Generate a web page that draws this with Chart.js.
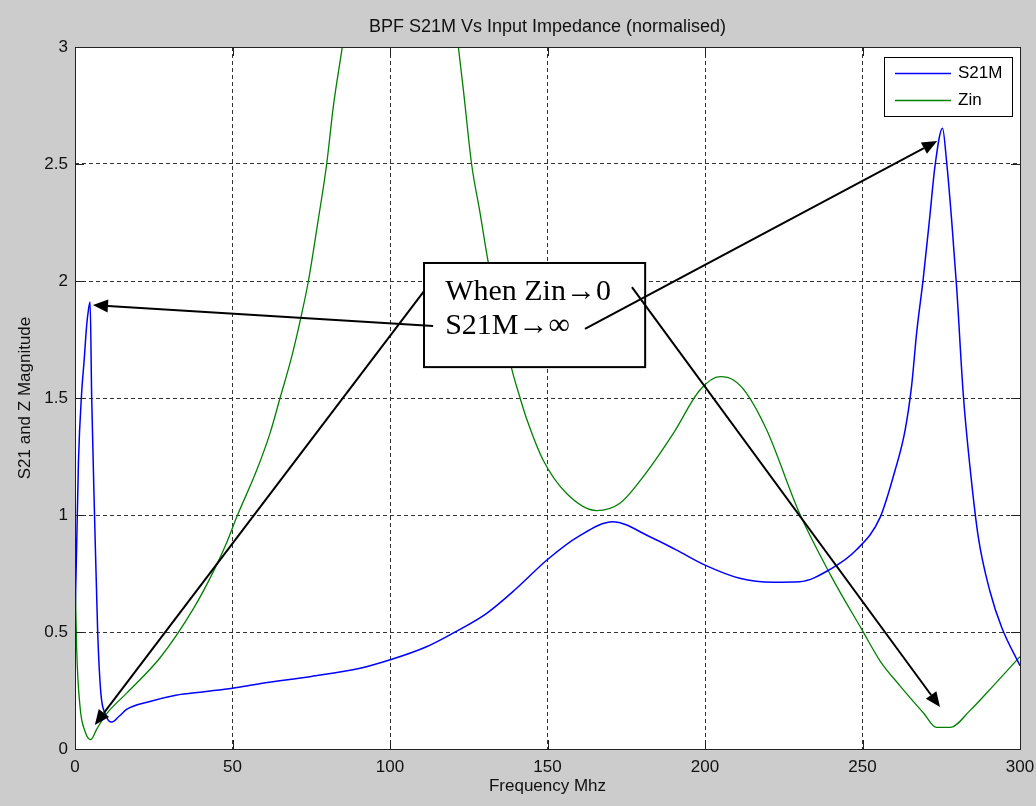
<!DOCTYPE html>
<html>
<head>
<meta charset="utf-8">
<title>BPF S21M Vs Input Impedance (normalised)</title>
<script src="https://cdn.jsdelivr.net/npm/chart.js@4.4.1/dist/chart.umd.min.js"></script>
<style>
  html, body { margin: 0; padding: 0; background: #cccccc; }
  #wrap { width: 1036px; height: 806px; }
</style>
</head>
<body>
<div id="wrap"><canvas id="chart" width="1036" height="806"></canvas></div>
<script>
// BPF S21M vs normalised input impedance, MATLAB-style figure

const freqS21 = [0, 0.5, 1.1, 2.1, 2.9, 3.7, 4.3, 4.8, 5.3, 6.2, 7.2, 8.2, 9.6, 11.7, 14, 16.5, 22.9, 32, 41, 50, 59, 75, 90.5, 99.8, 111.6, 121.2, 130.7, 140.2, 150, 160, 170.8, 182.5, 191, 200, 211, 221.6, 230, 240, 248, 255.6, 260.3, 263.5, 265.6, 267.2, 269.3, 271.4, 273, 275.4, 276.7, 278.3, 279.9, 282, 284.1, 286.8, 290.5, 294.2, 300];
const s21Values = [0.55, 0.85, 1.23, 1.52, 1.66, 1.81, 1.88, 1.91, 1.50, 1.0, 0.5, 0.24, 0.15, 0.115, 0.14, 0.17, 0.2, 0.23, 0.245, 0.26, 0.28, 0.31, 0.345, 0.38, 0.437, 0.504, 0.58, 0.687, 0.81, 0.91, 0.971, 0.907, 0.85, 0.786, 0.73, 0.713, 0.715, 0.77, 0.85, 0.99, 1.189, 1.361, 1.553, 1.78, 2.012, 2.28, 2.49, 2.653, 2.51, 2.26, 1.97, 1.514, 1.208, 0.902, 0.672, 0.519, 0.356];

const freqZin = [0, 0.5, 1.6, 3.2, 5.0, 6.9, 10, 16.5, 27, 37.6, 44, 48.1, 51.3, 57.7, 61.9, 65.1, 68.8, 72, 74.1, 77.2, 79.9, 82, 84.7, 88, 95, 105, 115, 119, 121.7, 123.3, 125.9, 128.6, 131.2, 135, 138.6, 141.3, 143.4, 148.6, 156, 165.6, 173, 180.4, 190, 198.4, 204.8, 209, 213.2, 219.6, 230, 240, 249.8, 255.6, 261.9, 269.3, 273.5, 277.8, 284.1, 291.5, 300];
const zinValues = [0.78, 0.44, 0.18, 0.075, 0.04, 0.085, 0.15, 0.24, 0.39, 0.6, 0.76, 0.88, 0.99, 1.192, 1.349, 1.5, 1.677, 1.862, 2.0, 2.26, 2.5, 2.745, 2.987, 3.3, 3.9, 4.2, 3.8, 3.3, 3.0, 2.816, 2.5, 2.29, 2.08, 1.85, 1.627, 1.5, 1.41, 1.235, 1.093, 1.019, 1.05, 1.164, 1.35, 1.534, 1.591, 1.577, 1.52, 1.363, 1.007, 0.74, 0.51, 0.376, 0.27, 0.155, 0.092, 0.092, 0.164, 0.27, 0.395];

const xTicks = [0, 50, 100, 150, 200, 250, 300];
const yTicks = [0, 0.5, 1, 1.5, 2, 2.5, 3];

// text box + arrows, in data units (MHz, magnitude)
const noteBox = [110.8, 2.077, 181, 1.632];
const noteLines = ['When Zin\u21920', 'S21M\u2192\u221e'];
const noteTextAt = [[117.5, 1.919], [117.5, 1.774]];
const noteArrows = [
  [[113.7, 1.808], [5.7, 1.897]],
  [[110.8, 1.957], [6.3, 0.103]],
  [[161.9, 1.795], [273.7, 2.598]],
  [[176.8, 1.974], [274.6, 0.179]]
];

const uiFont = 'Arial, "Liberation Sans", sans-serif';

function toXY(xs, ys) {
  return xs.map((x, i) => ({ x: x, y: ys[i] }));
}

const matlabFrame = {
  id: 'matlabFrame',
  beforeDraw(chart) {
    const { ctx, chartArea: a } = chart;
    ctx.save();
    ctx.fillStyle = '#cccccc';
    ctx.fillRect(0, 0, chart.width, chart.height);
    ctx.fillStyle = '#ffffff';
    ctx.fillRect(a.left, a.top, a.right - a.left, a.bottom - a.top);
    ctx.restore();
  },
  afterDatasetsDraw(chart) {
    const { ctx, chartArea: a, scales } = chart;
    ctx.save();
    ctx.strokeStyle = '#222';
    ctx.lineWidth = 1;
    ctx.beginPath();
    scales.x.ticks.forEach(t => {
      const px = Math.round(scales.x.getPixelForValue(t.value)) + 0.5;
      ctx.moveTo(px, a.bottom); ctx.lineTo(px, a.bottom - 9);
      ctx.moveTo(px, a.top); ctx.lineTo(px, a.top + 9);
    });
    scales.y.ticks.forEach(t => {
      const py = Math.round(scales.y.getPixelForValue(t.value)) + 0.5;
      ctx.moveTo(a.left, py); ctx.lineTo(a.left + 9, py);
      ctx.moveTo(a.right, py); ctx.lineTo(a.right - 9, py);
    });
    ctx.stroke();
    ctx.strokeRect(Math.round(a.left) + 0.5, Math.round(a.top) + 0.5,
      Math.round(a.right - a.left), Math.round(a.bottom - a.top));
    ctx.restore();
  },
  afterDraw(chart) {
    const { ctx, scales } = chart;
    const X = v => scales.x.getPixelForValue(v);
    const Y = v => scales.y.getPixelForValue(v);
    ctx.save();

    // annotation box
    const bx = X(noteBox[0]), by = Y(noteBox[1]);
    const bw = X(noteBox[2]) - bx, bh = Y(noteBox[3]) - by;
    ctx.fillStyle = '#ffffff';
    ctx.fillRect(bx, by, bw, bh);
    ctx.strokeStyle = '#000';
    ctx.lineWidth = 2;
    ctx.strokeRect(bx, by, bw, bh);

    // arrows
    noteArrows.forEach(([from, to]) => {
      const x0 = X(from[0]), y0 = Y(from[1]);
      const x1 = X(to[0]), y1 = Y(to[1]);
      const ang = Math.atan2(y1 - y0, x1 - x0);
      const len = 15, half = 6.5;
      const bxh = x1 - len * Math.cos(ang), byh = y1 - len * Math.sin(ang);
      ctx.lineWidth = 2;
      ctx.beginPath();
      ctx.moveTo(x0, y0);
      ctx.lineTo(bxh, byh);
      ctx.stroke();
      ctx.fillStyle = '#000';
      ctx.beginPath();
      ctx.moveTo(x1, y1);
      ctx.lineTo(bxh + half * Math.sin(ang), byh - half * Math.cos(ang));
      ctx.lineTo(bxh - half * Math.sin(ang), byh + half * Math.cos(ang));
      ctx.closePath();
      ctx.fill();
    });

    ctx.fillStyle = '#000';
    ctx.font = '30px "Liberation Serif", "Times New Roman", serif';
    ctx.textBaseline = 'alphabetic';
    ctx.textAlign = 'left';
    noteLines.forEach((txt, i) => {
      ctx.fillText(txt, X(noteTextAt[i][0]), Y(noteTextAt[i][1]));
    });

    // legend, top right inside the axes
    const a = chart.chartArea;
    const lx = a.right - 136, ly = a.top + 10, lw = 128, lh = 59;
    ctx.fillStyle = '#ffffff';
    ctx.fillRect(lx, ly, lw, lh);
    ctx.strokeStyle = '#000';
    ctx.lineWidth = 1;
    ctx.strokeRect(Math.round(lx) + 0.5, Math.round(ly) + 0.5, lw, lh);
    ctx.font = '17px ' + uiFont;
    ctx.textBaseline = 'middle';
    chart.data.datasets.forEach((ds, i) => {
      const yy = Math.round(ly + 16 + i * 26.5) + 0.5;
      ctx.strokeStyle = ds.borderColor;
      ctx.lineWidth = 1.5;
      ctx.beginPath();
      ctx.moveTo(lx + 11, yy);
      ctx.lineTo(lx + 67, yy);
      ctx.stroke();
      ctx.fillStyle = '#000';
      ctx.fillText(ds.label, lx + 74, yy);
    });
    ctx.restore();
  }
};

new Chart(document.getElementById('chart'), {
  type: 'line',
  data: {
    datasets: [
      {
        label: 'S21M',
        data: toXY(freqS21, s21Values),
        borderColor: '#0000ff',
        borderWidth: 1.5,
        pointRadius: 0,
        cubicInterpolationMode: 'monotone',
        fill: false
      },
      {
        label: 'Zin',
        data: toXY(freqZin, zinValues),
        borderColor: '#008000',
        borderWidth: 1.3,
        pointRadius: 0,
        cubicInterpolationMode: 'monotone',
        fill: false
      }
    ]
  },
  options: {
    responsive: false,
    animation: false,
    layout: { padding: { left: 0, right: 16, top: 0, bottom: 0 } },
    plugins: {
      legend: { display: false },
      tooltip: { enabled: false },
      title: {
        display: true,
        fullSize: false,
        text: 'BPF S21M Vs Input Impedance (normalised)',
        color: '#111',
        font: { family: uiFont, size: 18, weight: 'normal', lineHeight: 1.2 },
        padding: { top: 16, bottom: 9.4 }
      }
    },
    scales: {
      x: {
        type: 'linear',
        min: 0,
        max: 300,
        afterBuildTicks: s => { s.ticks = xTicks.map(v => ({ value: v })); },
        afterFit: s => { s.height = 57; s.paddingLeft = 0; s.paddingRight = 0; },
        grid: { color: '#333', lineWidth: 1, drawTicks: false },
        border: { display: false, dash: [4, 3] },
        ticks: { color: '#111', padding: 8, maxRotation: 0, callback: v => String(v), font: { family: uiFont, size: 17 } },
        title: {
          display: true,
          text: 'Frequency Mhz',
          color: '#111',
          padding: 9,
          font: { family: uiFont, size: 17, lineHeight: 1.2 }
        }
      },
      y: {
        min: 0,
        max: 3,
        afterBuildTicks: s => { s.ticks = yTicks.map(v => ({ value: v })); },
        afterFit: s => { s.width = 75; s.paddingTop = 0; s.paddingBottom = 0; },
        grid: { color: '#333', lineWidth: 1, drawTicks: false },
        border: { display: false, dash: [4, 3] },
        ticks: { color: '#111', padding: 7, callback: v => String(v), font: { family: uiFont, size: 17 } },
        title: {
          display: true,
          text: 'S21 and Z Magnitude',
          color: '#111',
          padding: 15,
          font: { family: uiFont, size: 17, lineHeight: 1.2 }
        }
      }
    }
  },
  plugins: [matlabFrame]
});
</script>
</body>
</html>
